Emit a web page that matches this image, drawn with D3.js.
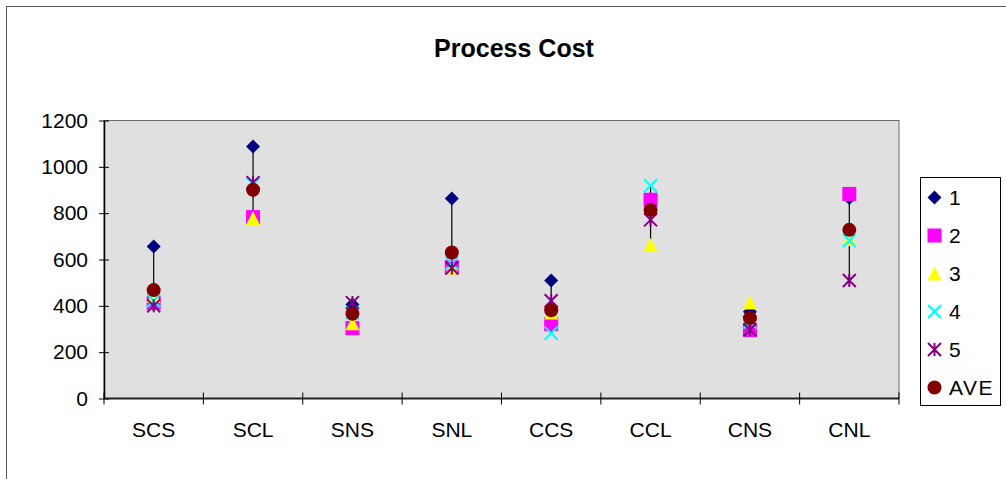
<!DOCTYPE html>
<html>
<head>
<meta charset="utf-8">
<script src="https://cdn.jsdelivr.net/npm/d3@7"></script>
<style>
  html, body { margin: 0; padding: 0; background: #fff; }
  svg { display: block; font-family: "Liberation Sans", Arial, sans-serif; }
</style>
</head>
<body>
<svg id="chart" width="1006" height="479"></svg>
<script>
// Process cost per configuration, five runs plus their average
const categories = ["SCS", "SCL", "SNS", "SNL", "CCS", "CCL", "CNS", "CNL"];
const run1 = [656, 1088, 406, 863, 509, 860, 375, 865];
const run2 = [412, 783, 304, 567, 321, 858, 296, 883];
const run3 = [443, 779, 325, 566, 371, 663, 414, 688];
const run4 = [422, 925, 370, 584, 282, 918, 330, 682];
const run5 = [400, 932, 414, 563, 422, 771, 297, 509];
const average = [468, 901, 366, 630, 381, 814, 347, 728];
const seriesNames = ["1", "2", "3", "4", "5", "AVE"];
const yTicks = [0, 200, 400, 600, 800, 1000, 1200];

const seriesValues = [run1, run2, run3, run4, run5, average];
const markerKinds = ["diamond", "square", "triangle", "cross", "star", "circle"];
const markerColors = ["#000080", "#FF00FF", "#FFFF00", "#00FFFF", "#800080", "#800000"];

const svg = d3.select("#chart");
const W = 1006, H = 479;

// outer chart frame
svg.append("rect")
  .attr("x", 6.5).attr("y", 6.5)
  .attr("width", W + 20).attr("height", H + 20)
  .attr("fill", "#fff").attr("stroke", "#555").attr("stroke-width", 1);

const plot = { left: 104, top: 120.5, right: 899, bottom: 398.5 };

const x = d3.scaleBand().domain(categories).range([plot.left, plot.right]).padding(0);
const y = d3.scaleLinear().domain([0, 1200]).range([plot.bottom, plot.top]);

// plot area
svg.append("rect")
  .attr("x", plot.left).attr("y", plot.top)
  .attr("width", plot.right - plot.left).attr("height", plot.bottom - plot.top)
  .attr("fill", "#E0E0E0").attr("stroke", "#6a6a6a").attr("stroke-width", 1);

// title
svg.append("text")
  .attr("x", 514).attr("y", 57)
  .attr("text-anchor", "middle")
  .attr("font-size", 25).attr("font-weight", "bold")
  .text("Process Cost");

// y axis
const yAxis = d3.axisLeft(y).tickValues(yTicks).tickFormat(d3.format("d"))
  .tickSizeInner(5).tickSizeOuter(0).tickPadding(10);
const gy = svg.append("g").attr("transform", `translate(${plot.left},0)`).call(yAxis);
gy.select(".domain").attr("stroke", "#000").attr("stroke-width", 1.5);
gy.selectAll(".tick line").attr("stroke", "#000").attr("x2", 5).attr("x1", -5);
gy.selectAll(".tick text").attr("font-size", 21).attr("font-family", "Liberation Sans, Arial, sans-serif")
  .attr("fill", "#000").attr("x", -16);

// x axis: ticks at category boundaries, labels centered in each band
const gx = svg.append("g").attr("transform", `translate(0,${plot.bottom})`);
gx.append("line")
  .attr("x1", plot.left).attr("x2", plot.right)
  .attr("stroke", "#222").attr("stroke-width", 2);
const boundaries = categories.map(c => x(c)).concat([x(categories[categories.length - 1]) + x.bandwidth()]);
gx.selectAll("line.tick")
  .data(boundaries)
  .join("line")
  .attr("class", "tick")
  .attr("x1", d => d).attr("x2", d => d)
  .attr("y1", -6).attr("y2", 6)
  .attr("stroke", "#000").attr("stroke-width", 1);
gx.selectAll("text")
  .data(categories)
  .join("text")
  .attr("x", d => x(d) + x.bandwidth() / 2)
  .attr("y", 38.5)
  .attr("text-anchor", "middle")
  .attr("font-size", 21)
  .text(d => d);

// marker shapes
function markerPath(kind, s) {
  const h = s / 2;
  switch (kind) {
    case "diamond": return `M0,${-h}L${h},0L0,${h}L${-h},0Z`;
    case "square": return `M${-h},${-h}H${h}V${h}H${-h}Z`;
    case "triangle": return `M0,${-h}L${h},${h}L${-h},${h}Z`;
    case "cross": return `M${-h},${-h}L${h},${h}M${h},${-h}L${-h},${h}`;
    case "star": return `M${-h},${-h}L${h},${h}M${h},${-h}L${-h},${h}M0,${-h}V${h}`;
    default: return "";
  }
}
function drawMarker(g, kind, color, cx, cy) {
  if (kind === "circle") {
    g.append("circle").attr("cx", cx).attr("cy", cy).attr("r", 7).attr("fill", color);
  } else if (kind === "cross" || kind === "star") {
    g.append("path").attr("d", markerPath(kind, 13))
      .attr("transform", `translate(${cx},${cy})`)
      .attr("fill", "none").attr("stroke", color).attr("stroke-width", 2);
  } else {
    g.append("path").attr("d", markerPath(kind, 14))
      .attr("transform", `translate(${cx},${cy})`)
      .attr("fill", color);
  }
}

// high-low lines across the five runs
const hiLo = svg.append("g");
categories.forEach((c, i) => {
  const vals = [run1, run2, run3, run4, run5].map(s => s[i]);
  hiLo.append("line")
    .attr("x1", x(c) + x.bandwidth() / 2).attr("x2", x(c) + x.bandwidth() / 2)
    .attr("y1", y(d3.max(vals))).attr("y2", y(d3.min(vals)))
    .attr("stroke", "#000").attr("stroke-width", 1.2);
});

// points
const pts = svg.append("g");
seriesValues.forEach((vals, si) => {
  const g = pts.append("g");
  vals.forEach((v, i) => {
    drawMarker(g, markerKinds[si], markerColors[si], x(categories[i]) + x.bandwidth() / 2, y(v));
  });
});

// legend
const lg = svg.append("g");
lg.append("rect")
  .attr("x", 920.5).attr("y", 177.5).attr("width", 80).attr("height", 228)
  .attr("fill", "#fff").attr("stroke", "#000").attr("stroke-width", 1);
seriesNames.forEach((name, i) => {
  const cy = 197.5 + i * 38;
  drawMarker(lg, markerKinds[i], markerColors[i], 934.5, cy);
  lg.append("text")
    .attr("x", 949).attr("y", cy + 7.5)
    .attr("font-size", 21)
    .attr("letter-spacing", name === "AVE" ? 1.5 : 0)
    .text(name);
});
</script>
</body>
</html>
